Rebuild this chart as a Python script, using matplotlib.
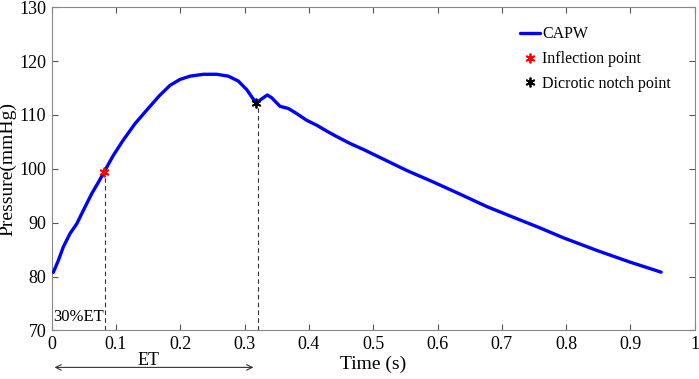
import matplotlib.pyplot as plt
import numpy as np

plt.rcParams['font.family'] = ['Liberation Serif', 'DejaVu Serif']

# CAPW curve
tiempo = [0.0025, 0.0103, 0.018, 0.0285, 0.0389, 0.0492, 0.0622, 0.0725, 0.0818,
          0.0958, 0.111, 0.1296, 0.1477, 0.168, 0.184, 0.1995, 0.215, 0.2358,
          0.2566, 0.2747, 0.290, 0.3033, 0.3177, 0.3266, 0.3353, 0.342, 0.355,
          0.368, 0.381, 0.3966, 0.412, 0.4277, 0.443, 0.464, 0.4846, 0.5054,
          0.552, 0.5935, 0.635, 0.6765, 0.718, 0.758, 0.7957, 0.8476, 0.899, 0.9476]
presion = [80.8, 83.0, 85.5, 88.0, 89.8, 92.3, 95.4, 97.5, 99.5,
           102.5, 105.3, 108.4, 110.9, 113.65, 115.5, 116.6, 117.2, 117.55,
           117.55, 117.2, 116.3, 114.7, 112.2, 113.0, 113.7, 113.2, 111.6,
           111.2, 110.25, 109.0, 108.1, 107.0, 106.0, 104.7, 103.6, 102.4,
           99.7, 97.55, 95.3, 93.0, 91.0, 89.1, 87.2, 84.86, 82.7, 80.83]

inflexao = (0.0818, 99.5)
entalhe = (0.3177, 112.2)

fig = plt.figure(figsize=(6.99, 3.79), dpi=100)
ax = fig.add_axes([0.074, 0.128, 0.920, 0.853])

ax.plot(tiempo, presion, color='#0000ff', lw=2.4, label='CAPW', zorder=3,
        solid_joinstyle='round', solid_capstyle='round')
ax.plot(*inflexao, ls='none', marker=(6, 2, 0), color='red', ms=7, mew=1.3,
        label='Inflection point', zorder=4)
ax.plot(*entalhe, ls='none', marker=(6, 2, 0), color='black', ms=7, mew=1.3,
        label='Dicrotic notch point', zorder=4)

ax.plot([0.0835, 0.0835], [70, inflexao[1]], color='#333333', ls='--', lw=0.8, dashes=(4, 3))
ax.plot([0.320, 0.320], [70, entalhe[1]], color='#333333', ls='--', lw=0.8, dashes=(4, 3))

ax.text(0.002, 71.0, '30%ET', fontsize=12, ha='left', va='bottom')

ax.set_xlim(0, 1)
ax.set_ylim(70, 130)
ax.set_xticks(np.arange(0, 1.01, 0.1))
ax.set_xticklabels(['0', '0.1', '0.2', '0.3', '0.4', '0.5', '0.6', '0.7', '0.8', '0.9', '1'])
ax.set_yticks(np.arange(70, 131, 10))
ax.tick_params(direction='in', top=True, right=True, labelsize=13, length=4,
               color='#555555', pad=4)
for s in ax.spines.values():
    s.set_color('#888888')
    s.set_linewidth(0.8)

ax.set_xlabel('Time (s)', fontsize=14, labelpad=2)
ax.set_ylabel('Pressure(mmHg)', fontsize=14, labelpad=2)

# ET arrow below the axis
ax.annotate('', xy=(0.0, 63.15), xytext=(0.318, 63.15), xycoords='data',
            arrowprops=dict(arrowstyle='<->', color='#333333', lw=0.8),
            annotation_clip=False)
ax.text(0.15, 64.4, 'ET', fontsize=13, ha='center', va='center', clip_on=False)

leg = ax.legend(loc='upper right', bbox_to_anchor=(0.985, 0.985), frameon=False,
                fontsize=11.5, handlelength=1.3, handletextpad=0.1, labelspacing=0.55)

fig.savefig('out.png', dpi=100)
